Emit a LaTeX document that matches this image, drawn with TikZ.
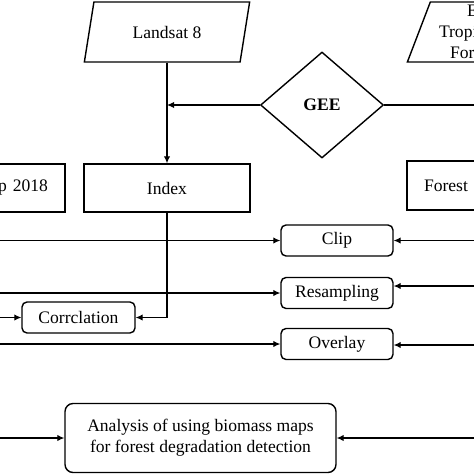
\documentclass[tikz,border=0pt]{standalone}
\usepackage{fontspec}
\setmainfont{Liberation Serif}
\usetikzlibrary{arrows.meta,shapes,positioning,calc}

\begin{document}
\begin{tikzpicture}[x=0.02cm,y=-0.02cm,
  box/.style={draw,thick,minimum width=3.32cm,minimum height=0.96cm,inner sep=0pt},
  data/.style={draw,thick,trapezium,trapezium left angle=70,trapezium right angle=110,
    trapezium stretches=true,minimum width=3.32cm,minimum height=1.2cm,inner sep=0pt},
  proc/.style={draw,thick,rounded corners=0.1cm,minimum width=2.24cm,minimum height=0.62cm,inner sep=0pt},
  line/.style={semithick},
  arr/.style={semithick,-{Latex[length=4pt,width=3.6pt]}}]
\clip (0,0) rectangle (474,474);
% inputs
\node[data] (landsat) at (167,32) {Landsat 8};
\node[data,text width=2.04cm,align=left] (tropic) at (490,32)
  {\hspace*{0.56cm}E\\Tropi\\\hspace*{0.22cm}For};
\node[diamond,draw,thick,minimum width=2.46cm,minimum height=2.12cm,inner sep=0pt,
  font=\bfseries] (gee) at (322,105) {GEE};
\node[box] (index) at (167,188) {Index};
\node[box,text width=2.64cm,align=right] (map) at (-18,188) {p 2018};
\node[box,minimum height=0.98cm,text width=2.64cm,align=left] (forest) at (490,185.5) {Forest I};
% processing
\node[proc] (clip) at (337,240.5) {Clip};
\node[proc] (resamp) at (337,293) {Resampling};
\node[proc] (overlay) at (337,344) {Overlay};
\node[proc,minimum width=2.26cm] (corr) at (78.5,317.5) {Corrclation};
\node[proc,rounded corners=0.16cm,minimum width=5.42cm,minimum height=1.38cm,
  align=center] (analysis) at (200.5,438) {Analysis of using biomass maps\\for forest degradation detection};
% free ends
\coordinate (geeout) at (480,105);
\coordinate (clipL) at (-6,240.5);
\coordinate (rsL) at (-6,293);
\coordinate (corrL) at (-6,317.5);
\coordinate (ovL) at (-6,344);
\coordinate (anL) at (-6,438);
\coordinate (clipR) at (480,240.5);
\coordinate (rsR) at (480,286);
\coordinate (ovR) at (480,345);
\coordinate (anR) at (480,438);
% connectors
\draw[arr] (landsat.south -| index.north) -- (index.north);
\draw[arr] (gee.west) -- (gee.west -| index.north);
\draw[line] (gee.east) -- (gee.east -| geeout);
\draw[arr] (index.south) |- (corr.east);
\draw[arr] (clipL) -- (clip.west);
\draw[arr] (rsL) -- (resamp.west);
\draw[arr] (corrL) -- (corr.west);
\draw[arr] (ovL) -- (overlay.west);
\draw[arr] (anL) -- (analysis.west);
\draw[arr] (clipR) -- (clip.east);
\draw[arr] (rsR) -- (rsR -| resamp.east);
\draw[arr] (ovR) -- (ovR -| overlay.east);
\draw[arr] (anR) -- (analysis.east);
\end{tikzpicture}
\end{document}
